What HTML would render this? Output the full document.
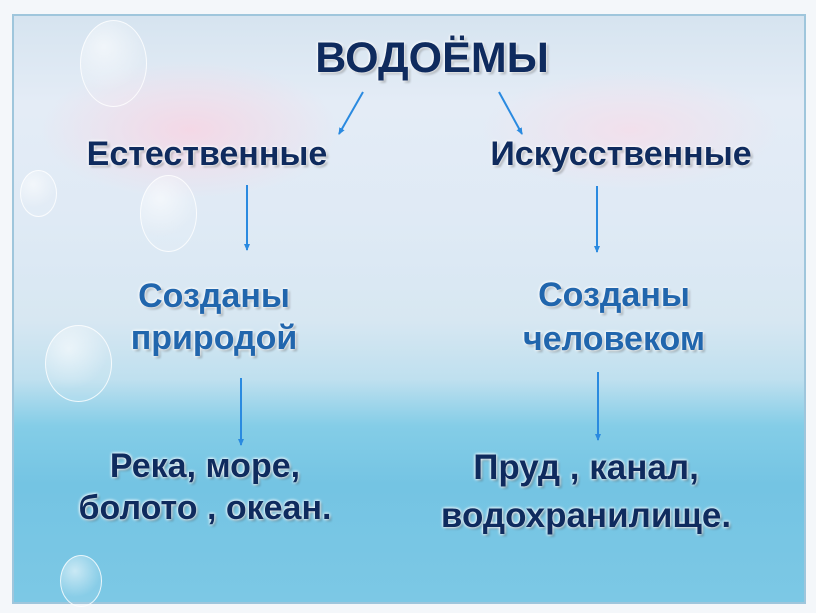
<!DOCTYPE html>
<html><head><meta charset="utf-8"><style>
html,body{margin:0;padding:0}
body{width:816px;height:613px;position:relative;overflow:hidden;background:#f4f7fa;font-family:"Liberation Sans","DejaVu Sans",sans-serif}
.bg{position:absolute;left:12px;top:14px;width:790px;height:586px;border:2px solid #9fc6dc;
background:linear-gradient(180deg,#d6e4f0 0%,#e4ecf6 15%,#dfeaf5 35%,#d7e7f2 52%,#bfe0ef 62%,#84cde7 70%,#74c4e3 80%,#7cc8e5 100%);}
.pink{position:absolute;left:40px;top:60px;width:300px;height:140px;border-radius:50%;background:radial-gradient(#f4d8e6 0%,rgba(244,216,230,0) 70%)}
.pink2{position:absolute;left:480px;top:70px;width:300px;height:120px;border-radius:50%;background:radial-gradient(#f2e0ec 0%,rgba(242,224,236,0) 70%)}
.t{position:absolute;font-weight:bold;white-space:nowrap;text-align:center;transform:translateX(-50%);
text-shadow:0 0 3px #fff,0 0 3px #fff,2px 2px 2px rgba(0,0,0,.3)}
.d{color:#0f2b5e}.m{color:#2166ad}
.b{position:absolute;border-radius:50%;border:1px solid rgba(255,255,255,.8);background:radial-gradient(circle at 35% 30%,rgba(255,255,255,.6),rgba(255,255,255,.1) 60%)}
</style></head><body>
<div class="bg"></div>
<div class="pink"></div><div class="pink2"></div>
<div class="b" style="left:80px;top:20px;width:65px;height:85px"></div>
<div class="b" style="left:20px;top:170px;width:35px;height:45px"></div>
<div class="b" style="left:140px;top:175px;width:55px;height:75px"></div>
<div class="b" style="left:45px;top:325px;width:65px;height:75px"></div>
<div class="b" style="left:60px;top:555px;width:40px;height:50px"></div>
<div class="t d" style="left:432px;top:34px;font-size:43px">ВОДОЁМЫ</div>
<div class="t d" style="left:207px;top:135px;font-size:34px">Естественные</div>
<div class="t d" style="left:621px;top:135px;font-size:34px">Искусственные</div>
<div class="t m" style="left:214px;top:275px;font-size:34px;line-height:42px">Созданы<br>природой</div>
<div class="t m" style="left:614px;top:273px;font-size:34px;line-height:44px">Созданы<br>человеком</div>
<div class="t d" style="left:205px;top:445px;font-size:34px;line-height:42px">Река, море,<br>болото , океан.</div>
<div class="t d" style="left:586px;top:444px;font-size:35px;line-height:48px">Пруд , канал,<br>водохранилище.</div>
<svg width="816" height="613" style="position:absolute;left:0;top:0">
<defs><marker id="a" markerWidth="8" markerHeight="8" refX="6" refY="4" orient="auto" markerUnits="userSpaceOnUse"><path d="M0,1 L7,4 L0,7 z" fill="#2a8ae0"/></marker></defs>
<g stroke="#2a8ae0" stroke-width="2" marker-end="url(#a)">
<line x1="363" y1="92" x2="339" y2="134"/>
<line x1="499" y1="92" x2="522" y2="134"/>
<line x1="247" y1="185" x2="247" y2="250"/>
<line x1="597" y1="186" x2="597" y2="252"/>
<line x1="241" y1="378" x2="241" y2="445"/>
<line x1="598" y1="372" x2="598" y2="440"/>
</g></svg>
</body></html>
